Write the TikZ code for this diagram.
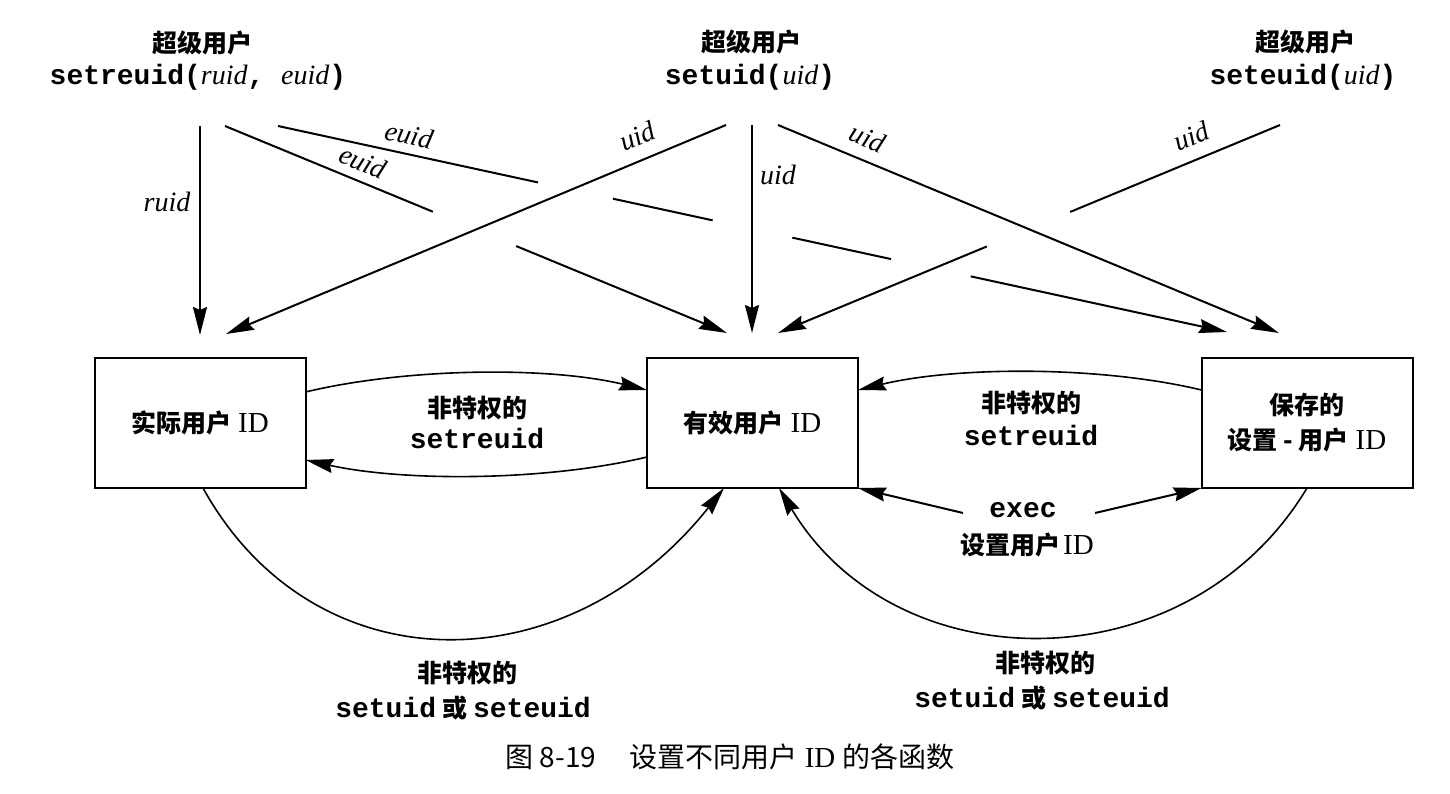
\documentclass[tikz,border=0pt]{standalone}
\usepackage{fontspec}
\setmainfont{Liberation Serif}
\newfontfamily\cjk{Noto Sans CJK SC}
\newfontfamily\mono{Liberation Mono}
\usetikzlibrary{arrows.meta,calc}

% text helpers: Chinese labels, code, italic variables, the roman "ID"
\newcommand\hz[1]{{\cjk\bfseries\fontsize{25}{30}\selectfont #1}}
\newcommand\cd[1]{{\mono\bfseries\fontsize{28}{32}\selectfont #1}}
\newcommand\vn[1]{{\itshape\fontsize{28}{32}\selectfont #1}}
\newcommand\rid{{\fontsize{29}{32}\selectfont ID}}

\begin{document}
\begin{tikzpicture}[x=1pt,y=-1pt,
  every node/.style={inner sep=0pt,outer sep=0pt},
  idbox/.style={draw,line width=2pt,minimum width=211pt,minimum height=130pt,
    align=center,font=\fontsize{25}{35}\selectfont},
  tip/.style={-{Stealth[length=28pt,width=14pt,inset=3pt]}},
  ln/.style={line width=2pt},
  arc/.style={line width=1.6pt},
]
\fill[white] (0,0) rectangle (1450,794);
\useasboundingbox (0,0) rectangle (1450,794);

% the three user IDs
\node[idbox] (real)  at (200,423)   {\hz{实际用户}\;\rid};
\node[idbox] (eff)   at (752.5,423) {\hz{有效用户}\;\rid};
\node[idbox] (saved) at (1307,423)  {\hz{保存的}\\\hz{设置 - 用户}\;\rid};

% superuser calls
\node (suA) at (202,43)  {\hz{超级用户}};
\node (fnA) at (198,77)  {\cd{setreuid(}\vn{ruid}\cd{, }\vn{euid}\cd{)}};
\node (suB) at (751,42)  {\hz{超级用户}};
\node (fnB) at (750,77)  {\cd{setuid(}\vn{uid}\cd{)}};
\node (suC) at (1305,42) {\hz{超级用户}};
\node (fnC) at (1303,77) {\cd{seteuid(}\vn{uid}\cd{)}};

% start points under the calls
\coordinate (a-r)  at (200,126);
\coordinate (a-e1) at (225,126);
\coordinate (a-e2) at (278,126);
\coordinate (b-r)  at (726,125);
\coordinate (b-e)  at (752,125);
\coordinate (b-s)  at (778,125);
\coordinate (c-e)  at (1280,125);
% arrow tips above the boxes
\coordinate (r-1) at (200,335);
\coordinate (r-2) at (226,334);
\coordinate (e-1) at (727,333);
\coordinate (e-2) at (752,333);
\coordinate (e-3) at (778,333);
\coordinate (s-1) at (1227,332);
\coordinate (s-2) at (1279,333);

% setreuid
\draw[ln,tip] (a-r) -- (r-1);
\draw[ln] (a-e1) -- ($(a-e1)!0.414!(e-1)$);
\draw[ln,tip] ($(a-e1)!0.580!(e-1)$) -- (e-1);
\draw[ln] (a-e2) -- ($(a-e2)!0.274!(s-1)$);
\draw[ln] ($(a-e2)!0.353!(s-1)$) -- ($(a-e2)!0.458!(s-1)$);
\draw[ln] ($(a-e2)!0.542!(s-1)$) -- ($(a-e2)!0.646!(s-1)$);
\draw[ln,tip] ($(a-e2)!0.730!(s-1)$) -- (s-1);
% setuid
\draw[ln,tip] (b-r) -- (r-2);
\draw[ln,tip] (b-e) -- (e-2);
\draw[ln,tip] (b-s) -- (s-2);
% seteuid
\draw[ln] (c-e) -- ($(c-e)!0.418!(e-3)$);
\draw[ln,tip] ($(c-e)!0.584!(e-3)$) -- (e-3);

% argument labels
\node (l-ruid)  at (167,202) {\vn{ruid}};
\node[rotate=-12.5] (l-euid2) at (409,135) {\vn{euid}};
\node[rotate=-22]   (l-euid1) at (363,162) {\vn{euid}};
\node[rotate=22.7]  (l-uid1)  at (637,136) {\vn{uid}};
\node (l-uid2) at (778,175) {\vn{uid}};
\node[rotate=-22.5] (l-uid3)  at (868,138) {\vn{uid}};
\node[rotate=22.5]  (l-uid4)  at (1191,136) {\vn{uid}};

% unprivileged setreuid between the boxes
\draw[arc,tip] ([yshift=31pt]real.east) .. controls +(100,-24) and +(-100,-24) .. ([yshift=33pt]eff.west);
\draw[arc,tip] ([yshift=-34pt]eff.west) .. controls +(-100,24) and +(100,22) .. ([yshift=-37pt]real.east);
\draw[arc,tip] ([yshift=33pt]saved.west) .. controls +(-100,-24) and +(100,-24) .. ([yshift=33pt]eff.east);
\node (np1)  at (477,408)  {\hz{非特权的}};
\node (np1c) at (477,438)  {\cd{setreuid}};
\node (np2)  at (1031,403) {\hz{非特权的}};
\node (np2c) at (1031,435) {\cd{setreuid}};

% exec of a set-user-ID program
\node (ex)  at (1023,510) {\cd{exec}};
\node (exl) at (1027,545) {\hz{设置用户}\;\rid};
\coordinate (ex-l) at (963,513);
\coordinate (ex-r) at (1095,513);
\draw[ln,tip] (ex-l) -- (eff.south east);
\draw[ln,tip] (ex-r) -- (saved.south west);

% unprivileged setuid / seteuid
\draw[arc,tip] ([xshift=3pt]real.south) .. controls +(110,199) and +(-158,199) .. ([xshift=-28.5pt]eff.south);
\draw[arc,tip] (saved.south) .. controls +(-118,197) and +(118,197) .. ([xshift=26.5pt]eff.south);
\node (np3)  at (467,673)  {\hz{非特权的}};
\node (np3c) at (463,708)  {\cd{setuid}\hspace{6pt}\hz{或}\hspace{6pt}\cd{seteuid}};
\node (np4)  at (1045,663) {\hz{非特权的}};
\node (np4c) at (1042,698) {\cd{setuid}\hspace{6pt}\hz{或}\hspace{6pt}\cd{seteuid}};

% caption
\node (cap) at (730,757) {{\cjk\fontsize{28}{32}\selectfont 图 8-19\hspace{1.2em}设置不同用户}\hspace{7pt}\rid\hspace{7pt}{\cjk\fontsize{28}{32}\selectfont 的各函数}};
\end{tikzpicture}
\end{document}
